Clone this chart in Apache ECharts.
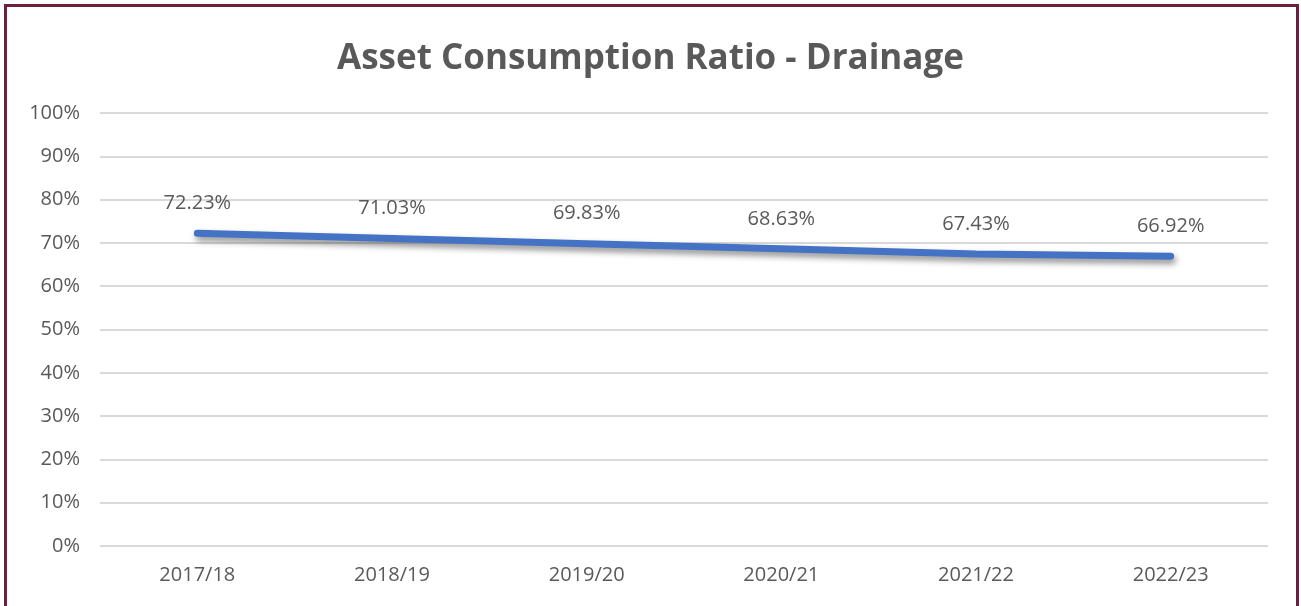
<!DOCTYPE html>
<html>
<head>
<meta charset="utf-8">
<script src="https://cdn.jsdelivr.net/npm/echarts@6/dist/echarts.min.js"></script>
<style>
html,body{margin:0;padding:0;background:#fff;}
#chart{position:absolute;left:0;top:0;width:1301px;height:606px;}
#frame{position:absolute;left:4px;top:4px;width:1289px;height:604px;border:3px solid #6e1e3f;border-bottom:none;box-sizing:content-box;pointer-events:none;}
</style>
</head>
<body>
<div id="chart"></div>
<div id="frame"></div>
<script>
const title = 'Asset Consumption Ratio - Drainage';
const categories = ['2017/18','2018/19','2019/20','2020/21','2021/22','2022/23'];
const values = [72.23, 71.03, 69.83, 68.63, 67.43, 66.92];

const chart = echarts.init(document.getElementById('chart'));
chart.setOption({
  animation: false,
  backgroundColor: '#fff',
  title: {
    text: title,
    left: 'center',
    top: 37,
    textStyle: {fontFamily: 'Open Sans', fontWeight: 'bold', fontSize: 35, color: '#595959'}
  },
  grid: {left: 100, right: 33, top: 113, bottom: 60},
  xAxis: {
    type: 'category',
    data: categories,
    boundaryGap: true,
    axisLine: {show: false},
    axisTick: {show: false},
    axisLabel: {fontFamily: 'Open Sans', fontSize: 20, color: '#595959', margin: 19}
  },
  yAxis: {
    type: 'value',
    min: 0, max: 100, interval: 10,
    axisLine: {show: false},
    axisTick: {show: false},
    splitLine: {lineStyle: {color: '#d9d9d9', width: 2}},
    axisLabel: {fontFamily: 'Open Sans', fontSize: 20, color: '#595959', margin: 20, formatter: v => v + '%'}
  },
  series: [{
    type: 'line',
    data: values,
    symbol: 'circle',
    symbolSize: 0,
    showSymbol: true,
    lineStyle: {color: '#4472c4', width: 7, cap: 'round', shadowColor: 'rgba(0,0,0,0.45)', shadowBlur: 6, shadowOffsetY: 4, shadowOffsetX: 2},
    itemStyle: {color: '#4472c4'},
    label: {
      show: true, position: 'top', distance: 20,
      fontFamily: 'Open Sans', fontSize: 20, color: '#595959',
      formatter: p => p.value.toFixed(2) + '%'
    }
  }]
});
</script>
</body>
</html>
